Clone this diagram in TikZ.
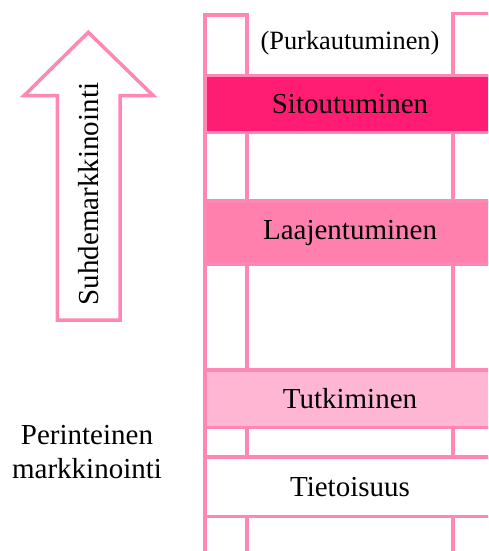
\documentclass[tikz,border=0pt]{standalone}
\usepackage{fontspec}
\setmainfont{Liberation Serif}
\definecolor{linepink}{HTML}{FF87B5}
\definecolor{sitpink}{HTML}{FF1C72}
\definecolor{laapink}{HTML}{FF80AD}
\definecolor{tutpink}{HTML}{FFB6D2}
\begin{document}
\begin{tikzpicture}[x=0.5pt,y=-0.5pt,
  pinkline/.style={draw=linepink,line width=1.75pt},
  band/.style={draw=linepink,line width=1.75pt},
  lbl/.style={font=\fontsize{14.5}{17}\selectfont,inner sep=0pt,text=black}]
\useasboundingbox (0,0) rectangle (488,551);
\clip (0,0) rectangle (488,551);
% columns
\draw[pinkline] (205,560) -- (205,15) -- (247,15) -- (247,560);
\draw[pinkline] (453,560) -- (453,13.5) -- (495,13.5) -- (495,560);
% bands
\path[band,fill=sitpink] (205,75.5) rectangle (495,132.5);
\path[band,fill=laapink] (205,201) rectangle (495,264);
\path[band,fill=tutpink] (205,370) rectangle (495,427.5);
\path[band,fill=white] (205,457) rectangle (495,516.5);
% band labels
\node[lbl,font=\fontsize{13.2}{16}\selectfont] (purk) at (350,43) {(Purkautuminen)};
\node[lbl] (sit) at (350,104) {Sitoutuminen};
\node[lbl] (laa) at (350,232.5) {Laajentuminen};
\node[lbl] (tut) at (350,398.5) {Tutkiminen};
\node[lbl] (tie) at (350,487) {Tietoisuus};
% arrow
\draw[pinkline,line join=miter] (88.3,32.3) -- (153.3,95.7) -- (120,95.7) -- (120,320) -- (57.3,320) -- (57.3,95.7) -- (24,95.7) -- cycle;
\node[lbl,rotate=90] (suhde) at (88.5,194) {Suhdemarkkinointi};
\node[lbl,align=center,font=\fontsize{14.5}{17}\selectfont] (peri) at (87,452) {Perinteinen\\markkinointi};
\end{tikzpicture}
\end{document}
